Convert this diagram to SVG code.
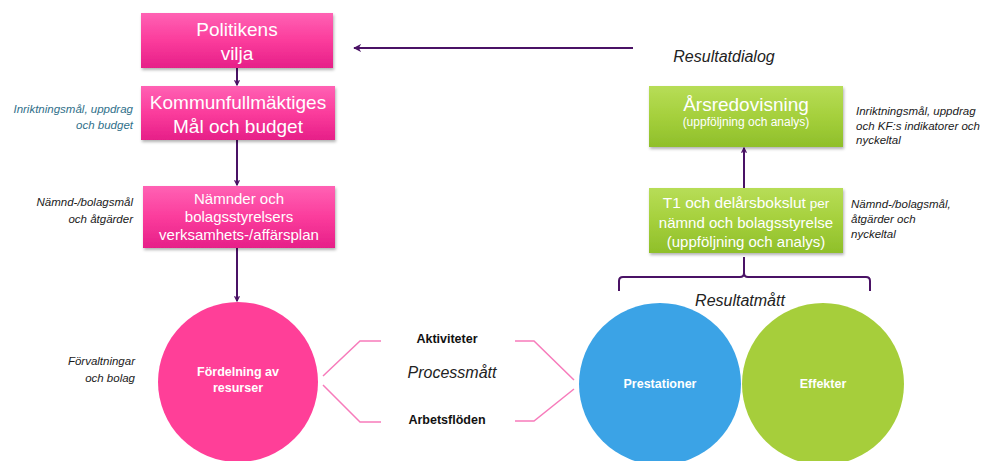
<svg xmlns="http://www.w3.org/2000/svg" width="981" height="461" viewBox="0 0 981 461">
<defs>
<linearGradient id="gPink" x1="0" y1="0" x2="0" y2="1">
<stop offset="0" stop-color="#ff62b4"/>
<stop offset="0.5" stop-color="#fb3c9c"/>
<stop offset="1" stop-color="#e61f88"/>
</linearGradient>
<linearGradient id="gGreen" x1="0" y1="0" x2="0" y2="1">
<stop offset="0" stop-color="#b7dd57"/>
<stop offset="0.5" stop-color="#a5d03c"/>
<stop offset="1" stop-color="#8fbf2a"/>
</linearGradient>
<filter id="sh" x="-10%" y="-10%" width="125%" height="135%">
<feDropShadow dx="1" dy="2" stdDeviation="1.5" flood-color="#000" flood-opacity="0.3"/>
</filter>
<marker id="ah" viewBox="0 0 10 10" refX="9" refY="5" markerWidth="6" markerHeight="6" orient="auto" markerUnits="userSpaceOnUse">
<path d="M1,1 L9,5 L1,9" fill="none" stroke="#4a1265" stroke-width="2"/>
</marker>
<marker id="ah2" viewBox="0 0 10 10" refX="9" refY="5" markerWidth="8" markerHeight="8" orient="auto" markerUnits="userSpaceOnUse">
<path d="M0,0 L10,5 L0,10 L3,5 Z" fill="#4a1265"/>
</marker>
</defs>
<style>
.pbox{fill:url(#gPink);filter:url(#sh)}
.gbox{fill:url(#gGreen);filter:url(#sh)}
.wt{font-family:"Liberation Sans",Arial,sans-serif;fill:#ffffff;text-anchor:middle}
.bt{font-family:"Liberation Sans",Arial,sans-serif;fill:#ffffff;text-anchor:middle;font-weight:bold;font-size:12.5px}
.note{font-family:"Liberation Sans",Arial,sans-serif;font-style:italic;font-size:11.5px;fill:#1a1a1a}
.lbl{font-family:"Liberation Sans",Arial,sans-serif;font-style:italic;font-size:16px;fill:#222;text-anchor:middle}
.blk{font-family:"Liberation Sans",Arial,sans-serif;font-weight:bold;font-size:12.5px;fill:#111;text-anchor:middle}
.conn{stroke:#4a1265;stroke-width:2;fill:none}
.pl{stroke:#f77bbb;stroke-width:1.5;fill:none}
</style>

<g id="connectors">
<line class="conn" x1="237" y1="68" x2="237" y2="85" marker-end="url(#ah)"/>
<line class="conn" x1="237" y1="140" x2="237" y2="185" marker-end="url(#ah)"/>
<line class="conn" x1="237" y1="248" x2="237" y2="301" marker-end="url(#ah)"/>
<line class="conn" x1="633" y1="48" x2="354" y2="48" marker-end="url(#ah2)"/>
<line class="conn" x1="744" y1="188" x2="744" y2="148" marker-end="url(#ah)"/>
<path class="conn" d="M619,291 L619,281 Q619,277 623,277 L740,277 Q744,277 744,273 L744,257 M744,273 Q744,277 748,277 L866,277 Q870,277 870,281 L870,291"/>
<path class="pl" d="M381,341 L360,341 L323,376 M323,385 L360,422 L381,422"/>
<path class="pl" d="M515,341 L534,341 L574,380 M574,389 L534,421 L515,421"/>
</g>

<g id="politikens">
<rect class="pbox" x="141" y="13" width="192" height="55"/>
<text class="wt" x="237" y="36" font-size="19">Politikens</text>
<text class="wt" x="237" y="60" font-size="19">vilja</text>
</g>

<g id="kommunfullmaktiges">
<rect class="pbox" x="141" y="86" width="194" height="54"/>
<text class="wt" x="238" y="109" font-size="19">Kommunfullmäktiges</text>
<text class="wt" x="238" y="133" font-size="19">Mål och budget</text>
</g>

<g id="namnder">
<rect class="pbox" x="143" y="186" width="192" height="62"/>
<text class="wt" x="239" y="204" font-size="15">Nämnder och</text>
<text class="wt" x="239" y="222" font-size="15">bolagsstyrelsers</text>
<text class="wt" x="239" y="240" font-size="15">verksamhets-/affärsplan</text>
</g>

<g id="fordelning">
<circle cx="238" cy="382" r="80" fill="#ff3f98"/>
<text class="bt" x="238" y="376">Fördelning av</text>
<text class="bt" x="238" y="392">resurser</text>
</g>

<g id="prestationer">
<circle cx="660" cy="384" r="81" fill="#3ba3e6"/>
<text class="bt" x="660" y="388">Prestationer</text>
</g>

<g id="effekter">
<circle cx="823" cy="384" r="81" fill="#a6ce3b"/>
<text class="bt" x="823" y="388">Effekter</text>
</g>

<g id="arsredovisning">
<rect class="gbox" x="649" y="86" width="194" height="61"/>
<text class="wt" x="746" y="111" font-size="19">Årsredovisning</text>
<text class="wt" x="746" y="126" font-size="12">(uppföljning och analys)</text>
</g>

<g id="t1">
<rect class="gbox" x="649" y="188" width="194" height="65"/>
<text class="wt" x="746" y="208" font-size="15.5">T1 och delårsbokslut<tspan font-size="13.5"> per</tspan></text>
<text class="wt" x="746" y="228" font-size="15">nämnd och bolagsstyrelse</text>
<text class="wt" x="746" y="247" font-size="15">(uppföljning och analys)</text>
</g>

<g id="labels">
<text class="lbl" x="724" y="62">Resultatdialog</text>
<text class="lbl" x="740" y="306">Resultatmått</text>
<text class="lbl" x="452" y="378" font-size="15.5">Processmått</text>
<text class="blk" x="447" y="343">Aktiviteter</text>
<text class="blk" x="447" y="424">Arbetsflöden</text>
<text class="note" x="133" y="113" text-anchor="end" style="fill:#2f6f8a">Inriktningsmål, uppdrag</text>
<text class="note" x="133" y="129" text-anchor="end" style="fill:#2f6f8a">och budget</text>
<text class="note" x="133" y="206" text-anchor="end">Nämnd-/bolagsmål</text>
<text class="note" x="133" y="223" text-anchor="end">och åtgärder</text>
<text class="note" x="135" y="365" text-anchor="end">Förvaltningar</text>
<text class="note" x="135" y="382" text-anchor="end">och bolag</text>
<text class="note" x="856" y="115">Inriktningsmål, uppdrag</text>
<text class="note" x="856" y="130">och KF:s indikatorer och</text>
<text class="note" x="856" y="144">nyckeltal</text>
<text class="note" x="851" y="208">Nämnd-/bolagsmål,</text>
<text class="note" x="851" y="223">åtgärder och</text>
<text class="note" x="851" y="238">nyckeltal</text>
</g>
</svg>
